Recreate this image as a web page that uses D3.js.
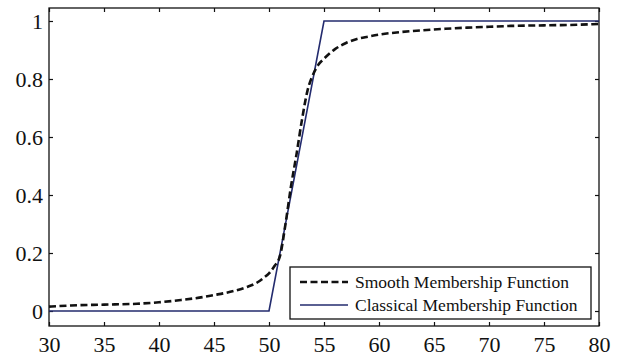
<!DOCTYPE html>
<html><head><meta charset="utf-8">
<script src="https://cdn.jsdelivr.net/npm/d3@7/dist/d3.min.js"></script>
<style>body{margin:0;background:#fff}svg{display:block}</style>
</head><body>
<svg id="c" width="618" height="356"></svg>
<script>
const xTicks = [30,35,40,45,50,55,60,65,70,75,80];
const yTicks = [0,0.2,0.4,0.6,0.8,1];
const yTickLabels = ["0","0.2","0.4","0.6","0.8","1"];
const smoothX = [30,32,35,38,40,42,44,45,46,47,48,49,49.5,50,50.5,51,51.5,52,52.5,53,53.5,54,54.5,55,55.5,56,57,58,59,60,62,64,66,68,70,72,75,78,80];
const smoothY = [0.015,0.019,0.022,0.025,0.03,0.038,0.048,0.055,0.062,0.071,0.083,0.1,0.114,0.13,0.155,0.19,0.3,0.43,0.54,0.66,0.76,0.815,0.85,0.87,0.888,0.903,0.924,0.938,0.946,0.953,0.962,0.968,0.973,0.977,0.98,0.983,0.985,0.987,0.99];
const classicX = [30,50,55,80];
const classicY = [0,0,1,1];
const legendLabels = ["Smooth Membership Function","Classical Membership Function"];

const svg = d3.select("#c");
const L=49,R=599,T=8,B=326;
const x = d3.scaleLinear().domain([30,80]).range([L,R]);
const y = d3.scaleLinear().domain([-0.0517,1.0448]).range([B,T]);
const font = "'Liberation Serif','Times New Roman',serif";

// frame
svg.append("rect").attr("x",L).attr("y",T).attr("width",R-L).attr("height",B-T)
  .attr("fill","none").attr("stroke","#111").attr("stroke-width",1.3);

// axes
const ax = (g, axis)=>{ g.call(axis); g.select(".domain").remove();
  g.selectAll(".tick line").attr("stroke","#111").attr("stroke-width",1.2);
  g.selectAll(".tick text").attr("font-family",font).attr("font-size",22).attr("fill","#111"); };
svg.append("g").attr("transform",`translate(0,${B})`)
  .call(g=>ax(g,d3.axisBottom(x).tickValues(xTicks).tickSizeInner(-4).tickSizeOuter(0).tickPadding(10)));
svg.append("g").attr("transform",`translate(0,${T})`)
  .call(g=>ax(g,d3.axisTop(x).tickValues(xTicks).tickSizeInner(-4).tickSizeOuter(0).tickFormat("")));
svg.append("g").attr("transform",`translate(${L},0)`)
  .call(g=>ax(g,d3.axisLeft(y).tickValues(yTicks).tickSizeInner(-4).tickSizeOuter(0).tickPadding(6).tickFormat((d,i)=>yTickLabels[i])));
svg.append("g").attr("transform",`translate(${R},0)`)
  .call(g=>ax(g,d3.axisRight(y).tickValues(yTicks).tickSizeInner(-4).tickSizeOuter(0).tickFormat("")));

const line = d3.line().x(d=>x(d[0])).y(d=>y(d[1]));
svg.append("path").datum(classicX.map((v,i)=>[v,classicY[i]]))
  .attr("d",line).attr("fill","none").attr("stroke","#232b6e").attr("stroke-width",1.6);
svg.append("path").datum(smoothX.map((v,i)=>[v,smoothY[i]]))
  .attr("d",line.curve(d3.curveMonotoneX)).attr("fill","none").attr("stroke","#111")
  .attr("stroke-width",2.6).attr("stroke-dasharray","7,3.5");

// legend
const lg = svg.append("g");
lg.append("rect").attr("x",290).attr("y",267).attr("width",301).attr("height",52)
  .attr("fill","#fff").attr("stroke","#111").attr("stroke-width",1.3);
const rows=[{y:282,dash:"7,3.5",c:"#111",w:2.6},{y:305,dash:null,c:"#232b6e",w:1.6}];
rows.forEach((r,i)=>{
  lg.append("line").attr("x1",300).attr("x2",348).attr("y1",r.y).attr("y2",r.y)
    .attr("stroke",r.c).attr("stroke-width",r.w).attr("stroke-dasharray",r.dash);
  lg.append("text").attr("x",355).attr("y",r.y).attr("dy","0.35em")
    .attr("font-family",font).attr("font-size",17.5).attr("fill","#111").text(legendLabels[i]);
});
</script>
</body></html>
